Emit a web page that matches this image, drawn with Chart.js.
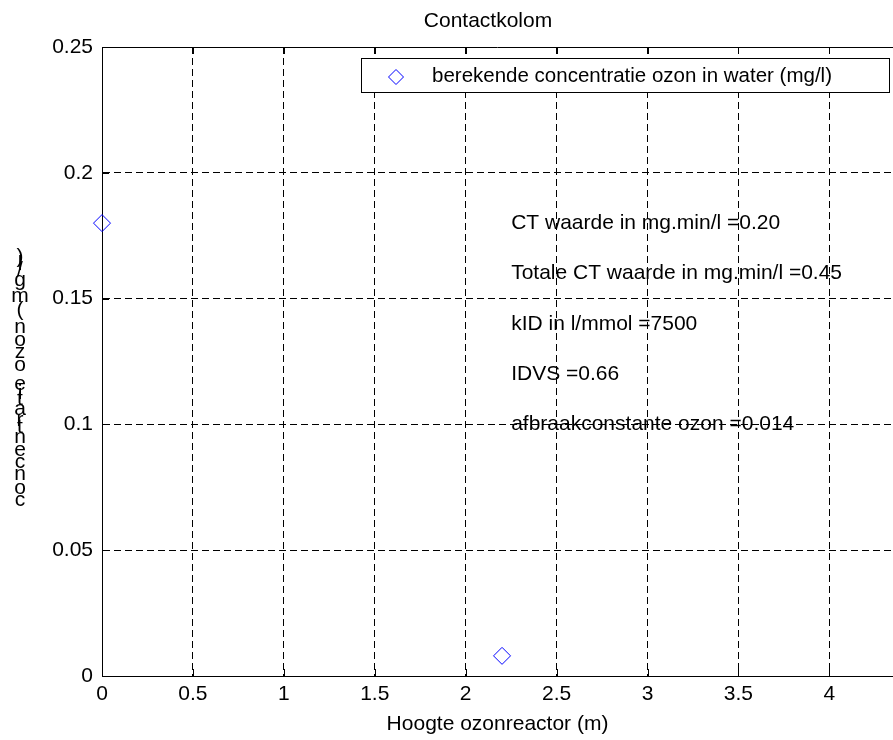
<!DOCTYPE html>
<html>
<head>
<meta charset="utf-8">
<title>Contactkolom</title>
<script src="https://cdn.jsdelivr.net/npm/chart.js@4/dist/chart.umd.min.js"></script>
<style>
  html, body { margin: 0; padding: 0; background: #fff; overflow: hidden; }
  canvas { display: block; }
</style>
</head>
<body>
<canvas id="chart" width="893" height="740"></canvas>
<script>
// Measured ozone concentration along the contact column
const heights = [0, 2.2];                 // m
const concentrations = [0.18, 0.008];     // mg/l

// Axis ranges and tick steps
const xRange = [0, 4.35];
const xStep = 0.5;
const yRange = [0, 0.25];
const yStep = 0.05;

// Text labels
const chartTitle = 'Contactkolom';
const xTitle = 'Hoogte ozonreactor (m)';
const yTitle = 'concentratie ozon (mg/l)';
const seriesName = 'berekende concentratie ozon in water (mg/l)';

// Result annotations placed in data coordinates
const infoLabels = [
  'CT waarde in mg.min/l =0.20',
  'Totale CT waarde in mg.min/l =0.45',
  'kID in l/mmol =7500',
  'IDVS =0.66',
  'afbraakconstante ozon =0.014'
];
const infoX = 2.25;
const infoY = [0.18, 0.16, 0.14, 0.12, 0.10];

const FONT_FAMILY = '"Liberation Sans", Arial, Helvetica, sans-serif';
const FONT = '21px ' + FONT_FAMILY;
const BLUE = '#0000ff';

Chart.defaults.font.family = FONT_FAMILY;
Chart.defaults.font.size = 21;
Chart.defaults.color = '#000';

// plain number labels: 0, 0.05, 0.1, 1, 1.5 ...
const plainTick = v => String(+Number(v).toFixed(4));

const frame = {
  id: 'frame',
  afterDraw(chart) {
    const { ctx, chartArea: a, scales: { x, y } } = chart;
    ctx.save();
    ctx.strokeStyle = '#000';
    ctx.lineWidth = 1;

    // top border of the axes box
    ctx.beginPath();
    ctx.moveTo(a.left, Math.round(a.top) + 0.5);
    ctx.lineTo(a.right, Math.round(a.top) + 0.5);
    ctx.stroke();

    // inward tick marks
    const tl = 7;
    ctx.beginPath();
    x.ticks.forEach(t => {
      const px = Math.round(x.getPixelForValue(t.value)) + 0.5;
      ctx.moveTo(px, a.bottom); ctx.lineTo(px, a.bottom - tl);
      ctx.moveTo(px, a.top); ctx.lineTo(px, a.top + tl);
    });
    y.ticks.forEach(t => {
      const py = Math.round(y.getPixelForValue(t.value)) + 0.5;
      ctx.moveTo(a.left, py); ctx.lineTo(a.left + tl, py);
    });
    ctx.stroke();

    ctx.fillStyle = '#000';
    ctx.font = FONT;

    // title
    ctx.textAlign = 'center';
    ctx.textBaseline = 'middle';
    ctx.fillText(chartTitle, 488, 21);

    // annotations
    ctx.textAlign = 'left';
    infoLabels.forEach((txt, i) => {
      ctx.fillText(txt, x.getPixelForValue(infoX), y.getPixelForValue(infoY[i]));
    });

    // y-axis label: upright glyphs stacked bottom to top
    ctx.textAlign = 'center';
    ctx.textBaseline = 'alphabetic';
    const chars = Array.from(yTitle);
    const k = 1.12;
    let by = 506;
    let prevW = 0;
    chars.forEach((ch, i) => {
      const w = ctx.measureText(ch).width;
      if (i > 0) by -= k * (prevW + w) / 2;
      ctx.fillText(ch, 20, by);
      prevW = w;
    });

    // legend box
    const lx = 361, ly = 58, lw = 528, lh = 34;
    ctx.fillStyle = '#fff';
    ctx.fillRect(lx, ly, lw, lh);
    ctx.strokeStyle = '#000';
    ctx.strokeRect(lx + 0.5, ly + 0.5, lw, lh);
    // legend symbol
    const sx = 396, sy = 77, r = 7.5;
    ctx.strokeStyle = BLUE;
    ctx.beginPath();
    ctx.moveTo(sx, sy - r); ctx.lineTo(sx + r, sy);
    ctx.lineTo(sx, sy + r); ctx.lineTo(sx - r, sy);
    ctx.closePath();
    ctx.stroke();
    ctx.fillStyle = '#000';
    ctx.textAlign = 'left';
    ctx.textBaseline = 'middle';
    ctx.font = '20.5px ' + FONT_FAMILY;
    ctx.fillText(seriesName, 432, 76);

    ctx.restore();
  }
};

new Chart(document.getElementById('chart'), {
  type: 'scatter',
  data: {
    datasets: [{
      label: seriesName,
      data: heights.map((h, i) => ({ x: h, y: concentrations[i] })),
      pointStyle: 'rectRot',
      pointRadius: 8.5,
      pointHoverRadius: 8.5,
      pointBorderWidth: 1,
      borderColor: BLUE,
      backgroundColor: 'rgba(0,0,0,0)',
      clip: false
    }]
  },
  options: {
    responsive: false,
    animation: false,
    devicePixelRatio: 1,
    layout: { autoPadding: false, padding: { top: 47, left: 0, right: 0, bottom: 0 } },
    plugins: {
      legend: { display: false },
      title: { display: false },
      tooltip: { enabled: false }
    },
    scales: {
      x: {
        type: 'linear',
        min: xRange[0],
        max: xRange[1],
        afterFit: s => { s.height = 64; s.paddingLeft = 0; s.paddingRight = 0; },
        ticks: { stepSize: xStep, includeBounds: false, padding: 6, maxRotation: 0, autoSkip: false, callback: plainTick },
        grid: { color: '#000', lineWidth: 1, drawTicks: false },
        border: { display: true, color: '#000', width: 1, dash: [7, 4] },
        title: { display: true, text: xTitle, padding: { top: 0, bottom: 3 } }
      },
      y: {
        type: 'linear',
        min: yRange[0],
        max: yRange[1],
        afterFit: s => { s.width = 102; s.paddingTop = 0; s.paddingBottom = 0; },
        ticks: { stepSize: yStep, padding: 9, callback: plainTick },
        grid: { color: '#000', lineWidth: 1, drawTicks: false },
        border: { display: true, color: '#000', width: 1, dash: [7, 4] }
      }
    }
  },
  plugins: [frame]
});
</script>
</body>
</html>
